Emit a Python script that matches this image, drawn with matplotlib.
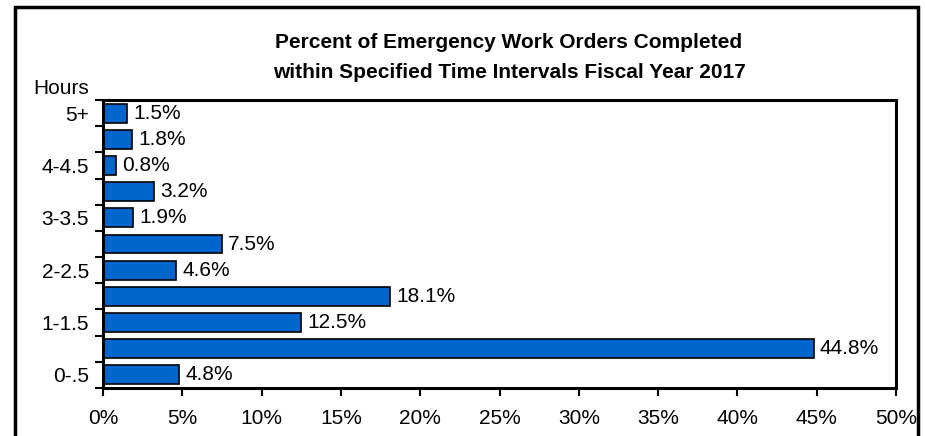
import matplotlib
matplotlib.use('Agg')
import matplotlib.pyplot as plt
from matplotlib.patches import Rectangle
from matplotlib.ticker import FixedLocator, PercentFormatter

# hour intervals, bottom to top
intervals = ['0-.5', '.5-1', '1-1.5', '1.5-2', '2-2.5', '2.5-3',
             '3-3.5', '3.5-4', '4-4.5', '4.5-5', '5+']
percent = [4.8, 44.8, 12.5, 18.1, 4.6, 7.5, 1.9, 3.2, 0.8, 1.8, 1.5]
x_ticks = [0, 5, 10, 15, 20, 25, 30, 35, 40, 45, 50]

plt.rcParams['font.family'] = ['Liberation Sans', 'DejaVu Sans']

fig = plt.figure(figsize=(9.25, 4.36), dpi=100)
ax = fig.add_axes([103 / 925, 1 - 388 / 436, 793 / 925, 288 / 436])

pos = list(range(len(intervals)))
ax.barh(pos, percent, height=0.72, color='#0066CC', edgecolor='black', linewidth=1.2)

for y, v in zip(pos, percent):
    ax.text(v + 0.4, y, f'{v}%', va='center', ha='left', fontsize=15)

ax.set_xlim(0, 50)
ax.set_ylim(-0.5, len(intervals) - 0.5)

# only every other interval gets a label
ax.set_yticks(pos[::2])
ax.set_yticklabels(intervals[::2], fontsize=15)
ax.yaxis.set_minor_locator(FixedLocator([p - 0.5 for p in pos] + [pos[-1] + 0.5]))
ax.tick_params(axis='y', which='major', length=0, pad=10)
ax.tick_params(axis='y', which='minor', length=6, width=1.5, direction='out')

ax.set_xticks(x_ticks)
ax.xaxis.set_major_formatter(PercentFormatter(decimals=0))
ax.tick_params(axis='x', labelsize=15, length=6, width=1.5, pad=9)

for s in ax.spines.values():
    s.set_linewidth(2.2)

fig.text(509 / 925, 1 - 42 / 436, 'Percent of Emergency Work Orders Completed',
         ha='center', va='center', fontsize=15, fontweight='bold')
fig.text(509 / 925, 1 - 72 / 436, 'within Specified Time Intervals Fiscal Year 2017',
         ha='center', va='center', fontsize=15, fontweight='bold')
fig.text(61 / 925, 1 - 88 / 436, 'Hours', ha='center', va='center', fontsize=15)

# outer frame, runs off the bottom edge like the original
fig.patches.append(Rectangle((15 / 925, -0.05), 903 / 925, 1.05 - 7 / 436,
                             transform=fig.transFigure, fill=False,
                             edgecolor='black', linewidth=2.5))

fig.savefig('out.png', dpi=100)
